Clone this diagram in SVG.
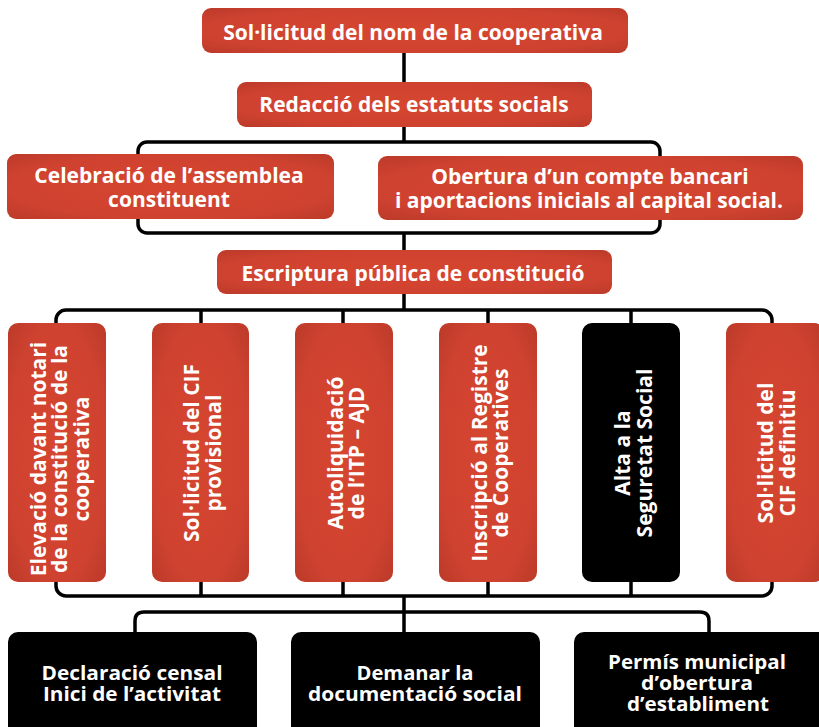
<svg xmlns="http://www.w3.org/2000/svg" width="819" height="727" viewBox="0 0 819 727">
<defs>
<radialGradient id="red" cx="50%" cy="50%" r="70%">
<stop offset="0" stop-color="#d6462f"/>
<stop offset="0.7" stop-color="#cf4230"/>
<stop offset="1" stop-color="#bc3a29"/>
</radialGradient>
<style>
.r{fill:url(#red);}
.k{fill:#000;}
.t{font-family:"Open Sans","Noto Sans","DejaVu Sans",sans-serif;font-weight:bold;font-size:21px;fill:#fff;text-anchor:middle;}
.v{font-family:"Open Sans","Noto Sans","DejaVu Sans",sans-serif;font-weight:bold;font-size:21px;fill:#fff;text-anchor:middle;}
.b{font-family:"Open Sans","Noto Sans","DejaVu Sans",sans-serif;font-weight:bold;font-size:19px;fill:#fff;text-anchor:middle;}
.c{fill:none;stroke:#000;stroke-width:3.5;}
</style>
</defs>
<rect width="819" height="727" fill="#fff"/>
<g id="connectors" class="c">
<path d="M404,53 V82 M404,127 V142"/>
<rect x="138" y="142" width="522" height="91" rx="9"/>
<path d="M404,233 V250 M404,294 V310"/>
<rect x="56" y="310" width="716" height="286" rx="10"/>
<path d="M201,310 V596 M343,310 V596 M488,310 V596 M631,310 V596"/>
<path d="M404,596 V632"/>
<path d="M135,634 V621 Q135,612 144,612 H700 Q709,612 709,621 V634"/>
</g>
<g id="n1"><rect class="r" x="202" y="8" width="426" height="45" rx="9"/><text class="t" x="413" y="40">Sol·licitud del nom de la cooperativa</text></g>
<g id="n2"><rect class="r" x="237" y="82" width="355" height="45" rx="9"/><text class="t" x="414" y="112">Redacció dels estatuts socials</text></g>
<g id="n3"><rect class="r" x="7" y="154" width="327" height="65" rx="9"/><text class="t" x="169" y="183">Celebració de l’assemblea</text><text class="t" x="169" y="207">constituent</text></g>
<g id="n4"><rect class="r" x="378" y="156" width="425" height="64" rx="9"/><text class="t" x="590" y="184">Obertura d’un compte bancari</text><text class="t" x="589" y="208">i aportacions inicials al capital social.</text></g>
<g id="n5"><rect class="r" x="217" y="250" width="395" height="44" rx="9"/><text class="t" x="413" y="281">Escriptura pública de constitució</text></g>
<g id="n6"><rect class="r" x="8" y="323" width="98" height="259" rx="10"/>
<text class="v" transform="translate(46,459) rotate(-90)">Elevació davant notari</text>
<text class="v" transform="translate(67,459) rotate(-90)">de la constitució de la</text>
<text class="v" transform="translate(89,459) rotate(-90)">cooperativa</text></g>
<g id="n7"><rect class="r" x="152" y="323" width="97" height="259" rx="10"/>
<text class="v" transform="translate(199,453) rotate(-90)">Sol·licitud del CIF</text>
<text class="v" transform="translate(221,453) rotate(-90)">provisional</text></g>
<g id="n8"><rect class="r" x="295" y="323" width="98" height="259" rx="10"/>
<text class="v" transform="translate(343,453) rotate(-90)">Autoliquidació</text>
<text class="v" transform="translate(364,453) rotate(-90)">de l’ITP – AJD</text></g>
<g id="n9"><rect class="r" x="439" y="323" width="98" height="259" rx="10"/>
<text class="v" transform="translate(487,453) rotate(-90)">Inscripció al Registre</text>
<text class="v" transform="translate(508,453) rotate(-90)">de Cooperatives</text></g>
<g id="n10"><rect class="k" x="582" y="323" width="98" height="259" rx="10"/>
<text class="v" transform="translate(630,453) rotate(-90)">Alta a la</text>
<text class="v" transform="translate(652,453) rotate(-90)">Seguretat Social</text></g>
<g id="n11"><rect class="r" x="726" y="323" width="98" height="259" rx="10"/>
<text class="v" transform="translate(773,453) rotate(-90)">Sol·licitud del</text>
<text class="v" transform="translate(795,453) rotate(-90)">CIF definitiu</text></g>
<g id="n12"><rect class="k" x="8" y="632" width="249" height="110" rx="10"/>
<text class="b" x="132" y="680" textLength="181" lengthAdjust="spacingAndGlyphs">Declaració censal</text>
<text class="b" x="132" y="701" textLength="178" lengthAdjust="spacingAndGlyphs">Inici de l’activitat</text></g>
<g id="n13"><rect class="k" x="291" y="632" width="249" height="110" rx="10"/>
<text class="b" x="415" y="680" textLength="117" lengthAdjust="spacingAndGlyphs">Demanar la</text>
<text class="b" x="415" y="701" textLength="214" lengthAdjust="spacingAndGlyphs">documentació social</text></g>
<g id="n14"><rect class="k" x="574" y="632" width="260" height="110" rx="10"/>
<text class="b" x="697" y="669" textLength="178" lengthAdjust="spacingAndGlyphs">Permís municipal</text>
<text class="b" x="697" y="690" textLength="112" lengthAdjust="spacingAndGlyphs">d’obertura</text>
<text class="b" x="698" y="711" textLength="142" lengthAdjust="spacingAndGlyphs">d’establiment</text></g>
</svg>
